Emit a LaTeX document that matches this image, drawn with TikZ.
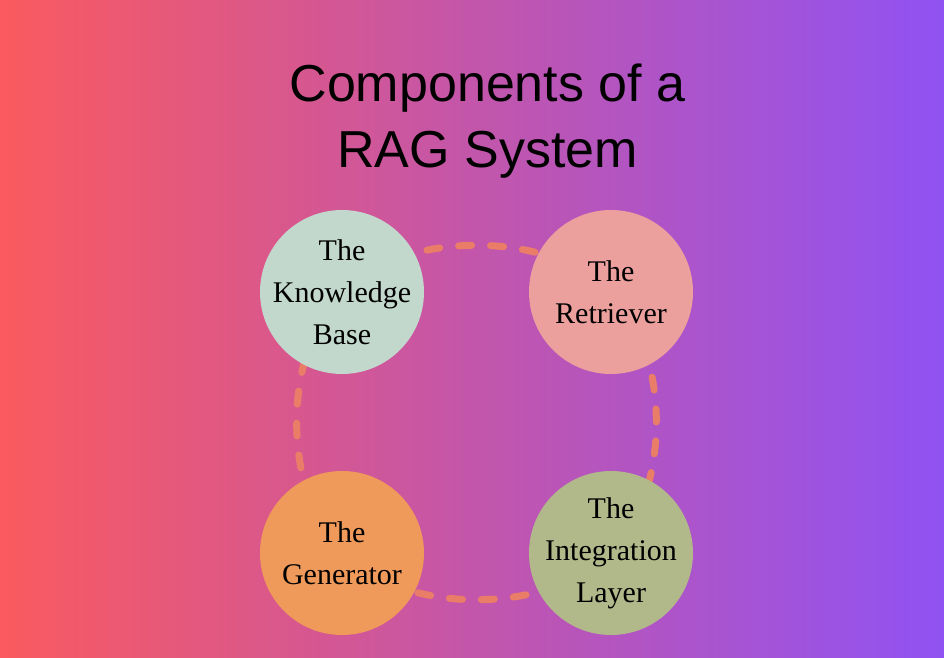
\documentclass[tikz,border=0pt]{standalone}
\usepackage{fontspec}
\setmainfont{Liberation Serif}
\newfontfamily\titlefont{Liberation Sans}
\usetikzlibrary{positioning}

\definecolor{bgleft}{HTML}{FA5A5F}
\definecolor{bgmid}{HTML}{C356AA}
\definecolor{bgright}{HTML}{9052F3}
\definecolor{loopcol}{HTML}{EA7D68}
\definecolor{kbcol}{HTML}{C3D8CC}
\definecolor{retcol}{HTML}{EBA09D}
\definecolor{gencol}{HTML}{EF9A5A}
\definecolor{intcol}{HTML}{B1B98A}

\begin{document}
\begin{tikzpicture}[x=1pt,y=1pt,inner sep=0pt,
  part/.style={circle,minimum size=164pt,inner sep=-16pt,align=center,
    font=\fontsize{30}{42}\selectfont},
  loopline/.style={draw=loopcol,line width=7pt,line cap=round,
    dash pattern=on 13pt off 19pt,bend left=45,looseness=0.84}]

 \fill[left color=bgleft,right color=bgright,middle color=bgmid] (0,0) rectangle (944,657);
 \useasboundingbox (0,0) rectangle (944,657);

 \coordinate (K) at (342,365);
 \coordinate (R) at (611,365);
 \coordinate (I) at (611,104);
 \coordinate (G) at (342,104);

 \node (title) at (487.5,536) [align=center,font=\titlefont\fontsize{52}{66}\selectfont] {Components of a\\RAG System};

% the dashed ring behind the circles
\draw[loopline] (K) to (R);
\draw[loopline] (R) to (I);
\draw[loopline] (I) to (G);
\draw[loopline] (G) to (K);

\node (kb) at (K) [part,fill=kbcol] {The\\Knowledge\\Base};
\node (ret) at (R) [part,fill=retcol] {The\\Retriever};
\node (int) at (I) [part,fill=intcol] {The\\Integration\\Layer};
\node (gen) at (G) [part,fill=gencol] {The\\Generator};

\end{tikzpicture}
\end{document}
